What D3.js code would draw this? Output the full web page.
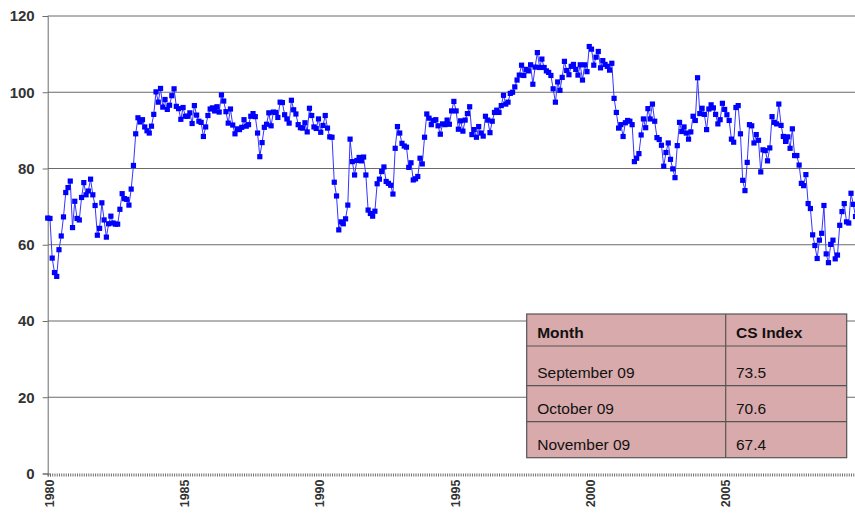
<!DOCTYPE html>
<html>
<head>
<meta charset="utf-8">
<script src="https://cdn.jsdelivr.net/npm/d3@7"></script>
<style>
  body { margin: 0; background: #fff; }
  svg { display: block; font-family: "Liberation Sans", Arial, sans-serif; }
</style>
</head>
<body>
<svg id="chart" width="855" height="515"></svg>
<script>
const startYear = 1980;
// monthly consumer sentiment, Jan 1980 .. Nov 2009
const sentiment = [
  67.0, 66.9, 56.5, 52.7, 51.7, 58.7, 62.3, 67.3, 73.7, 75.0, 76.7, 64.5,
  71.4, 66.9, 66.5, 72.4, 76.3, 73.1, 74.1, 77.2, 73.1, 70.3, 62.5, 64.3,
  71.0, 66.5, 62.0, 65.5, 67.5, 65.7, 65.4, 65.4, 69.3, 73.4, 72.1, 71.9,
  70.4, 74.6, 80.8, 89.1, 93.3, 92.2, 92.8, 90.9, 89.9, 89.3, 91.1, 94.2,
  100.1, 97.4, 101.0, 96.1, 98.1, 95.5, 96.6, 99.1, 100.9, 96.3, 95.7, 92.9,
  96.0, 93.7, 93.7, 94.6, 91.8, 96.5, 94.0, 92.4, 92.1, 88.4, 90.9, 93.9,
  95.6, 95.9, 95.1, 96.2, 94.8, 99.3, 97.7, 94.9, 91.9, 95.6, 91.4, 89.1,
  90.4, 90.2, 90.8, 92.8, 91.1, 91.5, 93.7, 94.4, 93.6, 89.3, 83.1, 86.8,
  90.8, 91.6, 94.6, 91.2, 94.8, 94.7, 93.4, 97.4, 97.3, 94.1, 93.0, 91.9,
  97.9, 95.4, 94.3, 91.5, 90.7, 90.6, 92.0, 89.6, 95.8, 93.9, 90.9, 90.5,
  93.0, 89.5, 91.3, 93.9, 90.6, 88.3, 88.2, 76.4, 72.8, 63.9, 66.0, 65.5,
  66.8, 70.4, 87.7, 81.8, 78.3, 82.1, 82.9, 82.0, 83.0, 78.3, 69.1, 68.2,
  67.5, 68.8, 76.0, 77.2, 79.2, 80.4, 76.6, 76.1, 75.6, 73.3, 85.3, 91.0,
  89.3, 86.6, 85.9, 85.6, 80.3, 81.5, 77.0, 77.3, 77.9, 82.7, 81.2, 88.2,
  94.3, 93.2, 91.5, 92.6, 92.8, 91.2, 89.0, 91.7, 91.5, 92.7, 91.6, 95.1,
  97.6, 95.1, 90.3, 92.5, 89.8, 92.7, 94.4, 96.2, 88.9, 90.2, 88.2, 91.0,
  89.3, 88.5, 93.7, 92.7, 89.4, 92.4, 94.7, 95.3, 94.7, 96.5, 99.2, 96.9,
  97.4, 99.7, 100.0, 101.4, 103.2, 104.5, 107.1, 104.4, 106.0, 105.6, 107.2, 102.1,
  106.6, 110.4, 106.5, 108.7, 106.5, 105.6, 105.2, 104.4, 100.9, 97.4, 102.7, 100.5,
  103.9, 108.1, 105.7, 104.6, 106.8, 107.3, 106.0, 104.5, 107.2, 103.2, 107.2, 105.4,
  112.0, 111.3, 107.1, 109.2, 110.7, 106.4, 108.3, 107.3, 106.8, 105.8, 107.6, 98.4,
  94.7, 90.6, 91.5, 88.4, 92.0, 92.6, 92.4, 91.5, 81.8, 82.7, 83.9, 88.8,
  93.0, 90.7, 95.7, 93.0, 96.9, 92.4, 88.1, 87.6, 86.1, 80.6, 84.2, 86.7,
  82.4, 79.9, 77.6, 86.0, 92.1, 89.7, 90.9, 89.3, 87.7, 89.6, 93.7, 92.6,
  103.8, 94.4, 95.8, 94.2, 90.2, 95.6, 96.7, 95.9, 94.2, 91.7, 92.8, 97.1,
  95.5, 94.1, 92.6, 87.7, 86.9, 96.0, 96.5, 89.1, 76.9, 74.2, 81.6, 91.5,
  91.2, 86.7, 88.9, 87.4, 79.1, 84.9, 84.7, 82.0, 85.4, 93.6, 92.1, 91.7,
  96.9, 91.3, 88.4, 87.1, 88.3, 85.3, 90.4, 83.4, 83.4, 80.9, 76.1, 75.5,
  78.4, 70.8, 69.5, 62.6, 59.8, 56.4, 61.2, 63.0, 70.3, 57.6, 55.3, 60.1,
  61.2, 56.3, 57.3, 65.1, 68.7, 70.8, 66.0, 65.7, 73.5, 70.6, 67.4
];
const yTicks = [0, 20, 40, 60, 80, 100, 120];
const yearLabels = [1980, 1985, 1990, 1995, 2000, 2005];
const tableHeader = ['Month', 'CS Index'];
const tableMonths = ['September 09', 'October 09', 'November 09'];
const tableValues = ['73.5', '70.6', '67.4'];

const svg = d3.select('#chart');
const plotLeft = 47.7, plotTop = 16, plotBottom = 473.5;
const step = 2.2565;

const x = d3.scaleLinear().domain([0, 1]).range([plotLeft, plotLeft + step]);
const y = d3.scaleLinear().domain([0, 120]).range([plotBottom, plotTop]);

// gridlines
svg.append('g')
  .selectAll('line')
  .data(yTicks.slice(1))
  .enter().append('line')
  .attr('x1', plotLeft).attr('x2', 855)
  .attr('y1', d => y(d)).attr('y2', d => y(d))
  .attr('stroke', '#6b6b6b').attr('stroke-width', 1);

// y axis
const yAxis = svg.append('g')
  .attr('transform', `translate(${plotLeft},0)`)
  .call(d3.axisLeft(y).tickValues(yTicks).tickSize(5).tickPadding(8));
yAxis.select('.domain').attr('stroke', '#6b6b6b');
yAxis.selectAll('.tick line').attr('stroke', '#6b6b6b');
yAxis.selectAll('text')
  .attr('font-size', 15).attr('font-weight', 'bold').attr('fill', '#333')
  .attr('font-family', '"Liberation Sans", Arial, sans-serif');

// x axis: monthly minor ticks, labels every 5 years
const months = d3.range(sentiment.length);
const xAxis = svg.append('g')
  .attr('transform', `translate(0,${plotBottom})`)
  .call(d3.axisBottom(x).tickValues(months.concat([sentiment.length])).tickSize(3).tickFormat(''));
xAxis.select('.domain').attr('stroke', '#6b6b6b');
xAxis.selectAll('.tick line').attr('stroke', '#6b6b6b');

svg.append('g')
  .selectAll('text')
  .data(yearLabels)
  .enter().append('text')
  .attr('transform', d => `translate(${x((d - startYear) * 12) + 5.8},${plotBottom + 6}) rotate(-90)`)
  .attr('text-anchor', 'end')
  .attr('font-size', 12.5).attr('font-weight', 'bold').attr('fill', '#333')
  .text(d => d);

// series
const line = d3.line()
  .x((d, i) => x(i))
  .y(d => y(d));

svg.append('path')
  .datum(sentiment)
  .attr('d', line)
  .attr('fill', 'none')
  .attr('stroke', '#3535ff')
  .attr('stroke-width', 1);

svg.append('g')
  .selectAll('rect')
  .data(sentiment)
  .enter().append('rect')
  .attr('x', (d, i) => x(i) - 2.6)
  .attr('y', d => y(d) - 2.6)
  .attr('width', 5.2).attr('height', 5.2)
  .attr('fill', '#0000ff');

// table
const tX = 526.7, tW = 320, colX = 725.7;
const rowEdges = [314, 346, 385.7, 421.7, 457.7];
const baselines = [337.5, 377.7, 413.5, 449.5];
const table = svg.append('g');
table.append('rect')
  .attr('x', tX).attr('y', rowEdges[0])
  .attr('width', tW).attr('height', rowEdges[4] - rowEdges[0])
  .attr('fill', '#d8aaab').attr('stroke', '#555').attr('stroke-width', 1.2);
table.selectAll('line.row')
  .data(rowEdges.slice(1, 4))
  .enter().append('line')
  .attr('x1', tX).attr('x2', tX + tW)
  .attr('y1', d => d).attr('y2', d => d)
  .attr('stroke', '#555').attr('stroke-width', 1.2);
table.append('line')
  .attr('x1', colX).attr('x2', colX)
  .attr('y1', rowEdges[0]).attr('y2', rowEdges[4])
  .attr('stroke', '#555').attr('stroke-width', 1.2);

const rows = [tableHeader].concat(tableMonths.map((m, i) => [m, tableValues[i]]));
rows.forEach((r, i) => {
  [tX + 10.5, colX + 10.3].forEach((cx, j) => {
    table.append('text')
      .attr('x', cx).attr('y', baselines[i])
      .attr('font-size', 15.5)
      .attr('font-weight', i === 0 ? 'bold' : 'normal')
      .attr('fill', '#111')
      .text(r[j]);
  });
});
</script>
</body>
</html>
